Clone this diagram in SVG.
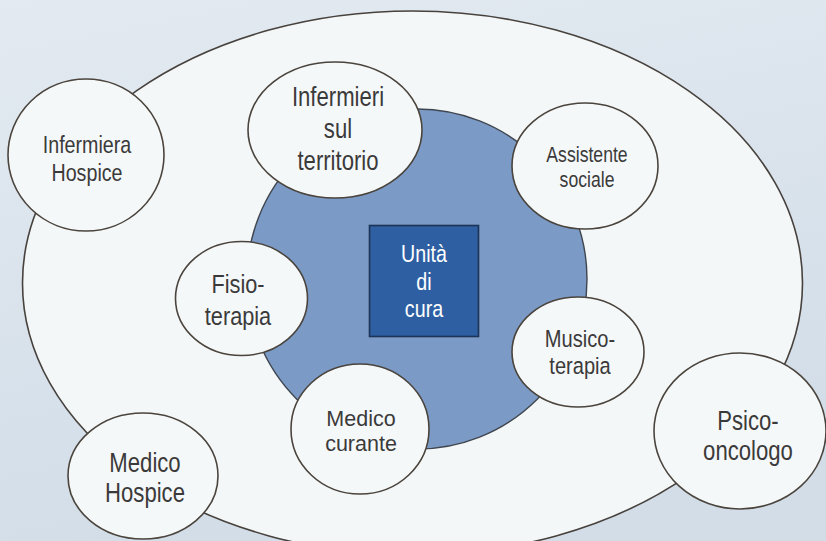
<svg xmlns="http://www.w3.org/2000/svg" width="826" height="541" viewBox="0 0 826 541">
  <defs>
    <linearGradient id="bg" x1="0" y1="0" x2="0.3" y2="1">
      <stop offset="0" stop-color="#e3eaf1"/>
      <stop offset="1" stop-color="#d2dde8"/>
    </linearGradient>
    <style>
      .ring { fill: #f4f7f8; stroke: #47423d; stroke-width: 1.6; }
      .core { fill: #7b9bc6; stroke: #3f4650; stroke-width: 1.4; }
      .unit { fill: #2e5fa2; stroke: #1d3356; stroke-width: 1.6; }
      .node { fill: #f5f8f9; stroke: #4a443d; stroke-width: 1.6; }
      /* condensed labels: Liberation Sans squeezed horizontally */
      .lbl { font-family: "Liberation Sans", Arial, sans-serif; fill: #3b3a3a; text-anchor: middle; }
      .reg { font-family: "Liberation Sans", Arial, sans-serif; fill: #3b3a3a; text-anchor: middle; }
      .white { fill: #ffffff; }
    </style>
  </defs>

  <!-- backdrop -->
  <rect x="0" y="0" width="826" height="541" fill="url(#bg)"/>

  <!-- outer care ring -->
  <ellipse class="ring" cx="412.5" cy="283" rx="390" ry="272"/>

  <!-- inner blue disc -->
  <circle class="core" cx="417" cy="279" r="170"/>

  <!-- central unit -->
  <g id="unita-di-cura">
    <rect class="unit" x="369.5" y="225.5" width="109" height="111"/>
    <text class="lbl white" font-size="24" transform="matrix(0.82 0 0 1 424 0)" y="262">Unità</text>
    <text class="lbl white" font-size="24" transform="matrix(0.82 0 0 1 424 0)" y="290">di</text>
    <text class="lbl white" font-size="24" transform="matrix(0.82 0 0 1 424 0)" y="317">cura</text>
  </g>

  <g id="infermiera-hospice">
    <ellipse class="node" cx="86" cy="155" rx="78" ry="76"/>
    <text class="lbl" font-size="24" transform="matrix(0.82 0 0 1 87 0)" y="153">Infermiera</text>
    <text class="lbl" font-size="24" transform="matrix(0.82 0 0 1 87 0)" y="181">Hospice</text>
  </g>

  <g id="infermieri-territorio">
    <ellipse class="node" cx="335" cy="130" rx="87" ry="68"/>
    <text class="lbl" font-size="27" transform="matrix(0.82 0 0 1 338 0)" y="106">Infermieri</text>
    <text class="lbl" font-size="27" transform="matrix(0.82 0 0 1 338 0)" y="138">sul</text>
    <text class="lbl" font-size="27" transform="matrix(0.82 0 0 1 338 0)" y="170">territorio</text>
  </g>

  <g id="assistente-sociale">
    <ellipse class="node" cx="585" cy="166" rx="73" ry="63"/>
    <text class="lbl" font-size="21.5" transform="matrix(0.82 0 0 1 587 0)" y="162">Assistente</text>
    <text class="lbl" font-size="21.5" transform="matrix(0.82 0 0 1 587 0)" y="187">sociale</text>
  </g>

  <g id="fisioterapia">
    <ellipse class="node" cx="241.5" cy="298.5" rx="66" ry="57"/>
    <text class="lbl" font-size="26.5" transform="matrix(0.82 0 0 1 238 0)" y="293">Fisio-</text>
    <text class="lbl" font-size="26.5" transform="matrix(0.82 0 0 1 238 0)" y="325">terapia</text>
  </g>

  <g id="musicoterapia">
    <ellipse class="node" cx="578" cy="352" rx="66" ry="55"/>
    <text class="lbl" font-size="24.5" transform="matrix(0.82 0 0 1 580 0)" y="347">Musico-</text>
    <text class="lbl" font-size="24.5" transform="matrix(0.82 0 0 1 580 0)" y="374">terapia</text>
  </g>

  <g id="medico-curante">
    <ellipse class="node" cx="360" cy="429" rx="69" ry="65"/>
    <text class="reg" font-size="21.5" x="361" y="426">Medico</text>
    <text class="reg" font-size="21.5" x="361" y="451">curante</text>
  </g>

  <g id="medico-hospice">
    <ellipse class="node" cx="143" cy="476" rx="75" ry="63"/>
    <text class="lbl" font-size="27" transform="matrix(0.82 0 0 1 145 0)" y="472">Medico</text>
    <text class="lbl" font-size="27" transform="matrix(0.82 0 0 1 145 0)" y="502">Hospice</text>
  </g>

  <g id="psico-oncologo">
    <ellipse class="node" cx="740" cy="431" rx="86" ry="78"/>
    <text class="lbl" font-size="27" transform="matrix(0.82 0 0 1 748 0)" y="430">Psico-</text>
    <text class="lbl" font-size="27" transform="matrix(0.82 0 0 1 748 0)" y="460">oncologo</text>
  </g>
</svg>
